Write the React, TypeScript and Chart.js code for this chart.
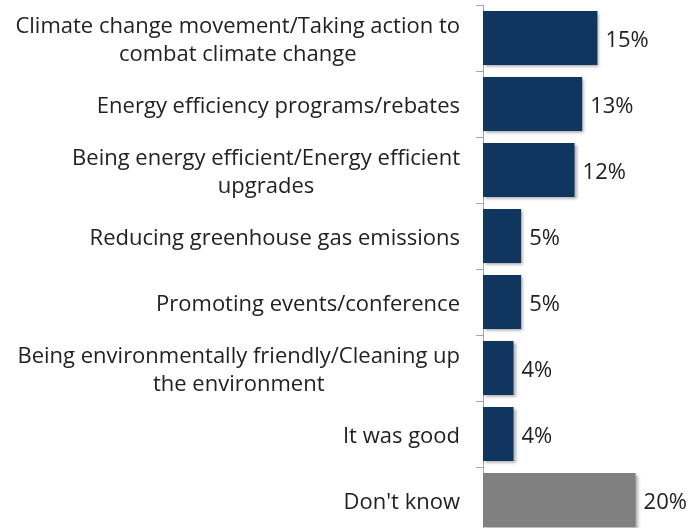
import React, { useEffect, useRef } from "react";
import { Chart, registerables } from "chart.js";

Chart.register(...registerables);

const categories: string[][] = [
  ["Climate change movement/Taking action to", "combat climate change"],
  ["Energy efficiency programs/rebates"],
  ["Being energy efficient/Energy efficient", "upgrades"],
  ["Reducing greenhouse gas emissions"],
  ["Promoting events/conference"],
  ["Being environmentally friendly/Cleaning up", "the environment"],
  ["It was good"],
  ["Don't know"],
];
const values: number[] = [15, 13, 12, 5, 5, 4, 4, 20];
const valueLabels: string[] = ["15%", "13%", "12%", "5%", "5%", "4%", "4%", "20%"];
const barColors: string[] = ["#10365f", "#10365f", "#10365f", "#10365f", "#10365f", "#10365f", "#10365f", "#808080"];

const FONT = "22px 'Open Sans', Lato, sans-serif";

const labelPlugin = {
  id: "customLabels",
  beforeDatasetsDraw(chart: any) {
    const ctx = chart.ctx;
    ctx.save();
    ctx.shadowColor = "rgba(0,0,0,0.35)";
    ctx.shadowOffsetX = 2;
    ctx.shadowOffsetY = 2;
    ctx.shadowBlur = 3;
  },
  afterDatasetsDraw(chart: any) {
    const ctx = chart.ctx;
    ctx.restore();
    const yScale = chart.scales.y;
    const meta = chart.getDatasetMeta(0);
    ctx.save();
    ctx.font = FONT;
    ctx.fillStyle = "#222222";
    ctx.textBaseline = "middle";
    const rightEdge = yScale.right - 23;
    const lineH = 28;
    categories.forEach((lines, i) => {
      const yc = yScale.getPixelForValue(i) + 3;
      let maxW = 0;
      lines.forEach((l) => (maxW = Math.max(maxW, ctx.measureText(l).width)));
      const cx = rightEdge - maxW / 2;
      ctx.textAlign = "center";
      lines.forEach((l, k) => {
        const y = yc + (k - (lines.length - 1) / 2) * lineH;
        ctx.fillText(l, cx, y);
      });
      const bar = meta.data[i];
      ctx.textAlign = "left";
      ctx.fillText(valueLabels[i], bar.x + 8, bar.y + 3);
    });
    ctx.restore();
  },
};

export default function App() {
  const ref = useRef<HTMLCanvasElement | null>(null);
  useEffect(() => {
    document.body.style.margin = "0";
    document.body.style.overflow = "hidden";
    const chart = new Chart(ref.current as HTMLCanvasElement, {
      type: "bar",
      data: {
        labels: categories.map((c) => c.join(" ")),
        datasets: [
          {
            data: values,
            backgroundColor: barColors,
            borderWidth: 0,
            barPercentage: 0.82,
            categoryPercentage: 1,
          },
        ],
      },
      options: {
        indexAxis: "y",
        animation: false,
        responsive: false,
        maintainAspectRatio: false,
        layout: { padding: { top: 5, right: 0, bottom: 0, left: 0 } },
        plugins: { legend: { display: false }, tooltip: { enabled: false } },
        scales: {
          x: {
            display: false,
            min: 0,
            max: 27,
          },
          y: {
            afterFit(scale: any) {
              scale.width = 483;
            },
            ticks: { display: false },
            border: { display: true, color: "#a6a6a6", width: 1 },
            grid: {
              display: true,
              drawOnChartArea: false,
              tickLength: 7,
              color: "#a6a6a6",
              offset: true,
            },
          },
        },
      },
      plugins: [labelPlugin],
    });
    return () => chart.destroy();
  }, []);
  return <canvas ref={ref} width={689} height={533} style={{ display: "block" }} />;
}
